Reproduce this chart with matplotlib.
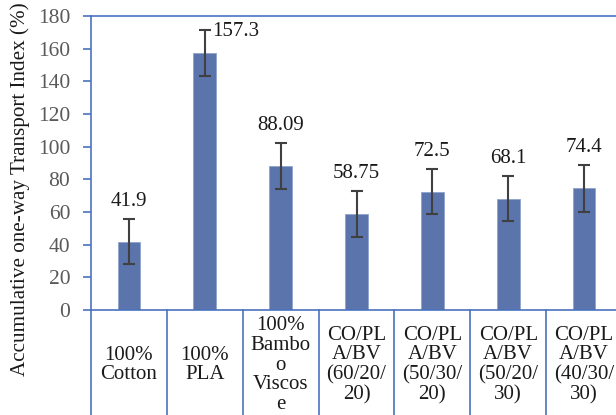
import matplotlib.pyplot as plt
import matplotlib.transforms as mtransforms
import numpy as np

categories = ["100%\nCotton", "100%\nPLA", "100%\nBambo\no\nViscos\ne",
              "CO/PL\nA/BV\n(60/20/\n20)", "CO/PL\nA/BV\n(50/30/\n20)",
              "CO/PL\nA/BV\n(50/20/\n30)", "CO/PL\nA/BV\n(40/30/\n30)"]
values = [41.9, 157.3, 88.09, 58.75, 72.5, 68.1, 74.4]
value_labels = ["41.9", "157.3", "88.09", "58.75", "72.5", "68.1", "74.4"]
errors = [13.8, 14.0, 14.0, 14.0, 13.8, 13.8, 14.2]
yticks = [0, 20, 40, 60, 80, 100, 120, 140, 160, 180]

plt.rcParams['font.family'] = ['Liberation Serif', 'DejaVu Serif']

BAR = '#5b74ac'
SPINE = '#4a72c0'
TICKTXT = '#595959'
ERR = '#404040'
TXT = '#1a1a1a'

fig = plt.figure(figsize=(6.16, 4.15), dpi=100)
ax = fig.add_axes([91 / 616, 105 / 415, 531 / 616, 294 / 415])

x = np.arange(len(values))
ax.bar(x, values, width=0.3, color=BAR, edgecolor='#8fa3cc', linewidth=0.6, zorder=2)
ax.errorbar(x, values, yerr=errors, fmt='none', ecolor=ERR, elinewidth=1.5,
            capsize=4.5, capthick=1.5, zorder=3)

for i, (v, e, lab) in enumerate(zip(values, errors, value_labels)):
    if i == 1:
        ax.annotate(lab, (x[i], v + e), xytext=(5.5, -1), textcoords='offset points',
                    ha='left', va='center', fontsize=15, color=TXT)
    else:
        ax.annotate(lab, (x[i], v + e), xytext=(0, 12.5), textcoords='offset points',
                    ha='center', va='center', fontsize=15, color=TXT)

ax.set_xlim(-0.5, len(values) - 0.5)
ax.set_ylim(0, 180)
ax.set_yticks(yticks)
ax.tick_params(axis='y', direction='out', length=6, width=1.2, color=SPINE,
               labelsize=15.5, labelcolor=TICKTXT, pad=9)
ax.set_xticks([])

for side in ['left', 'top', 'bottom']:
    ax.spines[side].set_color(SPINE)
    ax.spines[side].set_linewidth(1.2)
ax.spines['right'].set_visible(False)

# category table below the axis
trans = mtransforms.blended_transform_factory(ax.transData, ax.transAxes)
for b in np.arange(-0.5, len(values) + 0.5, 1.0):
    ax.plot([b, b], [0, -0.5], transform=trans, color=SPINE, lw=1.2, clip_on=False)
for i, c in enumerate(categories):
    ax.text(x[i], -55 / 294, c, transform=trans, ha='center', va='center',
            fontsize=15, color=TXT, linespacing=1.05)

fig.text(20 / 616, 1 - 189 / 415, "Accumulative one-way Transport Index (%)",
         rotation=90, ha='center', va='center', fontsize=15.2, color=TXT)

fig.savefig('out.png', dpi=100)
